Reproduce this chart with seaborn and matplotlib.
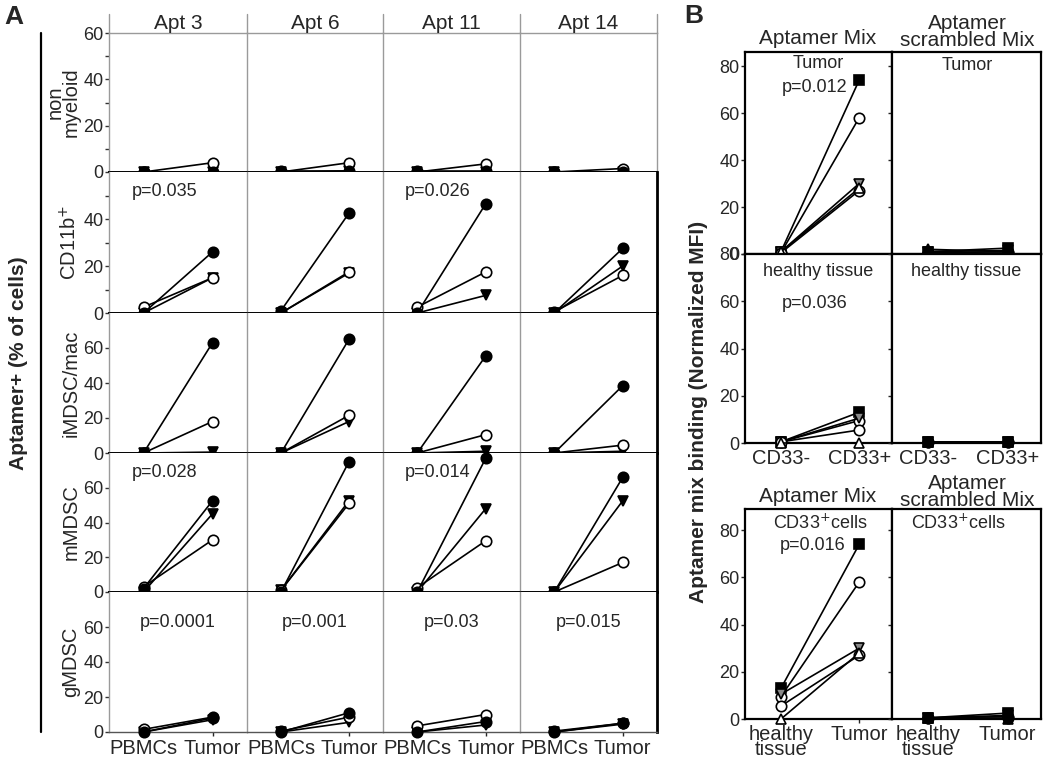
import matplotlib
matplotlib.use("Agg")
import matplotlib.pyplot as plt
from matplotlib.lines import Line2D
import pandas as pd
import seaborn as sns

sns.set_style("ticks")
plt.rcParams['font.family'] = ['Liberation Sans', 'DejaVu Sans']

W, H = 1050, 769

#### Data ####

# Panel A: (PBMCs, Tumor) per aptamer, one list per cell type row
apts = ["Apt 3", "Apt 6", "Apt 11", "Apt 14"]
cell_types = ["non\nmyeloid", "CD11b$^{+}$", "iMDSC/mac", "mMDSC", "gMDSC"]
a_xlabels = ["PBMCs", "Tumor"]
a_ylims = [60, 60, 80, 80, 80]

filled_circle = [
    [(0, 0), (0.5, 0.5), (0.5, 0.5), (0, 0)],
    [(0, 26), (1, 42.5), (0, 46.5), (0, 27.5)],
    [(0, 63), (0, 65), (0, 55.5), (0, 38.5)],
    [(2, 52.5), (0, 75), (0, 77), (0, 66)],
    [(0, 8), (0, 11), (0, 6), (0, 5)],
]
open_circle = [
    [(0, 4), (0, 4), (0, 3.5), (0, 1.5)],
    [(2.5, 15), (0, 17.5), (2.5, 17.5), (0.5, 16)],
    [(0, 18), (0, 21.5), (0, 10.5), (0, 4.5)],
    [(3, 30), (1, 51), (2.5, 29.5), (0, 17)],
    [(1.5, 8.5), (0.5, 8.5), (3.5, 10), (0.5, 5)],
]
down_triangle = [
    [(0, 0), (0, 0.5), (0, 0), (0, 0)],
    [(0, 15), (0, 17), (0, 7.5), (0, 20)],
    [(0, 0.5), (0, 18), (0, 1), (0, 1)],
    [(0, 45), (1, 52.5), (0, 48), (0, 52.5)],
    [(0, 7), (0, 5.5), (0, 4), (0, 4.5)],
]
a_pvalues = {
    (1, 0): "p=0.035", (1, 2): "p=0.026",
    (3, 0): "p=0.028", (3, 2): "p=0.014",
    (4, 0): "p=0.0001", (4, 1): "p=0.001", (4, 2): "p=0.03", (4, 3): "p=0.015",
}

# Panel B: five donors, (first, second) category values
mix_tumor = [(1, 74), (0.5, 58), (1, 30), (0.5, 27), (1, 28)]
mix_healthy = [(0.5, 13), (0.5, 9.5), (0.5, 10.5), (0.5, 5.5), (0, 0)]
mix_cd33 = [(13, 74), (9.5, 58), (10.5, 30), (5.5, 27), (0, 28)]
scr_tumor = [(1, 2.5), (0.5, 1), (1, 1.5), (0.5, 0.5), (2, 1)]
scr_healthy = [(0.5, 0.5), (0.5, 0.5), (0.5, 0.5), (0.5, 0.5), (0.5, 0.3)]
scr_cd33 = [(0.5, 2.5), (0.5, 1), (0.5, 1.5), (0.5, 0.5), (0.5, 0)]
b_xlabels_top = ["CD33-", "CD33+"]
b_xlabels_bottom = ["healthy\ntissue", "Tumor"]

#### Helpers ####

fig = plt.figure(figsize=(W / 100, H / 100), dpi=100)


def add_ax(x0, x1, y0, y1):
    return fig.add_axes([x0 / W, 1 - y1 / H, (x1 - x0) / W, (y1 - y0) / H])


def ftext(x, y, s, **kw):
    kw.setdefault("ha", "center")
    kw.setdefault("va", "center")
    fig.text(x / W, 1 - y / H, s, **kw)


def fline(xs, ys, **kw):
    fig.add_artist(Line2D([x / W for x in xs], [1 - y / H for y in ys], **kw))


def pair_line(ax, vals, marker, face, z):
    df = pd.DataFrame({"pos": [0, 1], "value": list(vals)})
    sns.lineplot(data=df, x="pos", y="value", ax=ax, estimator=None, sort=False,
                 color="black", lw=1.2, marker=marker, markersize=7.5,
                 markerfacecolor=face, markeredgecolor="black", markeredgewidth=1.2,
                 clip_on=False, zorder=z)


GRAY = "#9a9a9a"

#### Panel A ####
col_x = [109, 247, 383, 520, 657]
row_y = [33, 172, 313, 453, 592, 732]

for r in range(5):
    for c in range(4):
        ax = add_ax(col_x[c], col_x[c + 1], row_y[r], row_y[r + 1])
        pair_line(ax, down_triangle[r][c], "v", "black", 3)
        pair_line(ax, open_circle[r][c], "o", "white", 4)
        pair_line(ax, filled_circle[r][c], "o", "black", 5)
        ax.set_xlim(-0.5, 1.5)
        ax.set_ylim(0, a_ylims[r])
        ax.set_xlabel("")
        ax.set_ylabel("")
        for s in ax.spines.values():
            s.set_visible(False)
        ax.spines["left"].set_visible(True)
        ax.spines["left"].set_color(GRAY)
        ax.spines["left"].set_linewidth(1)
        ax.spines["bottom"].set_visible(True)
        ax.spines["bottom"].set_color("black" if r < 4 else "#555555")
        ax.spines["bottom"].set_linewidth(1.4 if r < 4 else 1)
        if r == 0:
            ax.spines["top"].set_visible(True)
            ax.spines["top"].set_color(GRAY)
            ax.spines["top"].set_linewidth(1)
        if c == 3:
            ax.spines["right"].set_visible(True)
            ax.spines["right"].set_color(GRAY if r == 0 else "black")
            ax.spines["right"].set_linewidth(1 if r == 0 else 2)
        if c == 0:
            ax.set_yticks([0, 20, 40] if r == 1 else [0, 20, 40, 60])
            if r < 2:
                ax.set_yticks([10, 30, 50], minor=True)
            ax.tick_params(axis="y", which="both", direction="out", length=3,
                           width=1, color="#333333", labelsize=13, pad=1)
            ax.set_ylabel(cell_types[r], fontsize=14.5, labelpad=2, linespacing=0.8)
        else:
            ax.set_yticks([])
        if r == 4:
            ax.set_xticks([0, 1])
            ax.set_xticklabels(a_xlabels, fontsize=14.5)
            ax.tick_params(axis="x", direction="out", length=3, width=1, pad=2)
        else:
            ax.set_xticks([])
        if r == 0:
            ax.set_title(apts[c], fontsize=15, pad=1)
        if (r, c) in a_pvalues:
            ax.text(0.5 if r == 4 else 0.4, 0.78 if r == 4 else 0.86, a_pvalues[(r, c)],
                    transform=ax.transAxes, ha="center", va="center", fontsize=13)

for x in col_x:
    fline([x, x], [14, 33], color=GRAY, lw=1)
fline([41, 41], [33, 732], color="black", lw=1.6)
ftext(19, 363, "Aptamer+ (% of cells)", rotation=90, fontsize=15, fontweight="bold")
ftext(14, 17, "A", fontsize=19, fontweight="bold")

#### Panel B ####
b_markers = [("s", "black"), ("o", "white"), ("v", "#8a8a8a"), ("o", "white"), ("^", "white")]
b_scr_markers = [("s", "black"), ("o", "black"), ("v", "black"), ("o", "black"), ("^", "black")]


def b_panel(x0, x1, y0, y1, series, markers, ylim, ticklabels, xlabels):
    ax = add_ax(x0, x1, y0, y1)
    for i, vals in enumerate(series):
        m, face = markers[i]
        pair_line(ax, vals, m, face, 3 + i * 0.1)
    ax.set_xlim(-0.46, 1.42)
    ax.set_ylim(0, ylim)
    ax.set_xlabel("")
    ax.set_ylabel("")
    for s in ax.spines.values():
        s.set_color("black")
        s.set_linewidth(1.6)
    ax.set_yticks([0, 20, 40, 60, 80])
    ax.tick_params(axis="y", direction="out", length=3, width=1, labelsize=13,
                   pad=1, labelleft=ticklabels)
    ax.set_xticks([0, 1])
    if xlabels is None:
        ax.set_xticklabels([])
        ax.tick_params(axis="x", direction="out", length=3, width=1)
    else:
        ax.set_xticklabels(xlabels, fontsize=14.5, linespacing=0.75)
        ax.tick_params(axis="x", direction="out", length=3, width=1, pad=1)
    return ax


bx = [745, 892, 1041]
b_panel(bx[0], bx[1], 52, 254, mix_tumor, b_markers, 86, True, None)
b_panel(bx[1], bx[2], 52, 254, scr_tumor, b_scr_markers, 86, False, None)
b_panel(bx[0], bx[1], 254, 443, mix_healthy, b_markers, 80, True, b_xlabels_top)
b_panel(bx[1], bx[2], 254, 443, scr_healthy, b_scr_markers, 80, False, b_xlabels_top)
b_panel(bx[0], bx[1], 509, 719, mix_cd33, b_markers, 89, True, b_xlabels_bottom)
b_panel(bx[1], bx[2], 509, 719, scr_cd33, b_scr_markers, 89, False, b_xlabels_bottom)

ftext(818, 38, "Aptamer Mix", fontsize=15)
ftext(967, 32, "Aptamer\nscrambled Mix", fontsize=15, linespacing=0.85)
ftext(818, 497, "Aptamer Mix", fontsize=15)
ftext(967, 492, "Aptamer\nscrambled Mix", fontsize=15, linespacing=0.85)

ftext(818, 63, "Tumor", fontsize=13)
ftext(815, 88, "p=0.012", fontsize=13)
ftext(967, 65, "Tumor", fontsize=13)
ftext(818, 272, "healthy tissue", fontsize=13)
ftext(815, 303, "p=0.036", fontsize=13)
ftext(966, 272, "healthy tissue", fontsize=13)
ftext(820, 523, "CD33$^{+}$cells", fontsize=13)
ftext(813, 546, "p=0.016", fontsize=13)
ftext(958, 523, "CD33$^{+}$cells", fontsize=13)

ftext(699, 412, "Aptamer mix binding (Normalized MFI)", rotation=90, fontsize=15,
      fontweight="bold")
ftext(694, 16, "B", fontsize=19, fontweight="bold")

plt.savefig("out.png", dpi=100)
